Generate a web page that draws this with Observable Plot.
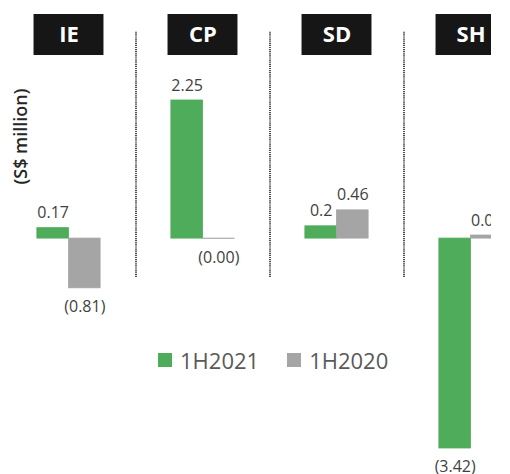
<!DOCTYPE html>
<html>
<head>
<meta charset="utf-8">
<script src="https://cdn.jsdelivr.net/npm/d3@7"></script>
<script src="https://cdn.jsdelivr.net/npm/@observablehq/plot@0.6"></script>
<style>
  body { margin: 0; background: white; font-family: "Open Sans", sans-serif; }
  #wrap { position: relative; width: 510px; height: 474px; overflow: hidden; background: white; }
  #chart { position: absolute; left: 0; top: 0; width: 491px; height: 474px; overflow: hidden; }
  #legend { position: absolute; left: 158px; top: 349px; display: flex; align-items: center;
            font-size: 22px; line-height: 22px; color: #595959; }
  .item { display: flex; align-items: center; margin-right: 28px; }
  .sw { width: 14px; height: 14px; margin-right: 8px; }
</style>
</head>
<body>
<div id="wrap">
  <div id="chart"></div>
  <div id="legend"></div>
</div>
<script>
const categories = ["IE", "CP", "SD", "SH"];
const seriesNames = ["1H2021", "1H2020"];
const values2021 = [0.17, 2.25, 0.2, -3.42];
const values2020 = [-0.81, -0.004, 0.46, 0.05];
const seriesColors = ["#4eac5b", "#a5a5a5"];
const yLabel = "(S$ million)";

// layout constants (in value units of the y scale)
const headerTop = 3.651, headerBottom = 2.983, headerMid = 3.317;
const sepTop = 3.374, sepBottom = -0.634;
const bw = 0.236, hw = 0.261;

const rows = categories.flatMap((c, i) => [
  {cat: c, i, series: seriesNames[0], value: values2021[i], side: -1},
  {cat: c, i, series: seriesNames[1], value: values2020[i], side: 1}
]);
const fmt = d => d.value < 0 ? `(${Math.abs(d.value).toFixed(2)})` : String(d.value);
const cx = d => d.i + d.side * bw / 2;

const chart = Plot.plot({
  width: 491,
  height: 474,
  margin: 0,
  x: {type: "linear", domain: [0, 3], range: [68.5, 470.5], axis: null},
  y: {domain: [-3.42, 2.25], range: [448, 100], axis: null},
  color: {domain: seriesNames, range: seriesColors},
  style: {fontFamily: "Open Sans", background: "white"},
  marks: [
    Plot.ruleX(categories.slice(1).map((c, i) => i + 0.5), {
      y1: sepBottom, y2: sepTop, stroke: "#222", strokeWidth: 1.6, strokeDasharray: "1.2,0.9"
    }),
    Plot.rect(rows, {
      x1: d => d.side < 0 ? d.i - bw : d.i,
      x2: d => d.side < 0 ? d.i : d.i + bw,
      y1: () => 0, y2: "value",
      fill: "series", stroke: "series", strokeWidth: 0.8
    }),
    Plot.text(rows.filter(d => d.value >= 0), {
      x: cx, y: "value", text: fmt, lineAnchor: "bottom", dy: -10,
      fontSize: 16, fill: "#3f3f3f"
    }),
    Plot.text(rows.filter(d => d.value < 0), {
      x: cx, y: "value", text: fmt, lineAnchor: "top", dy: 12.5,
      fontSize: 16, fill: "#3f3f3f"
    }),
    Plot.rect(categories, {
      x1: (d, i) => i - hw, x2: (d, i) => i + hw,
      y1: headerBottom, y2: headerTop, fill: "#161616"
    }),
    Plot.text(categories, {
      x: (d, i) => i, y: headerMid, text: d => d, fill: "white",
      fontWeight: 700, fontSize: 22, lineAnchor: "middle"
    }),
    Plot.text([yLabel], {
      frameAnchor: "top-left", dx: 21, dy: 136, rotate: -90,
      fontSize: 18, fontWeight: 600, fill: "#262626",
      textAnchor: "middle", lineAnchor: "middle"
    })
  ]
});
document.getElementById("chart").appendChild(chart);

const legend = document.getElementById("legend");
seriesNames.forEach((s, k) => {
  const item = document.createElement("div");
  item.className = "item";
  const sw = document.createElement("div");
  sw.className = "sw";
  sw.style.background = seriesColors[k];
  const t = document.createElement("span");
  t.textContent = s;
  item.appendChild(sw);
  item.appendChild(t);
  legend.appendChild(item);
});
</script>
</body>
</html>
